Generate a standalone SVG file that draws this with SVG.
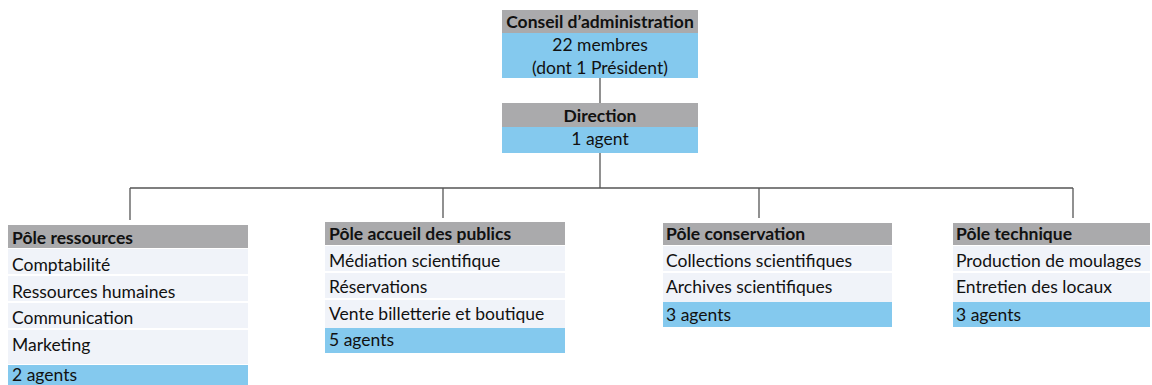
<svg xmlns="http://www.w3.org/2000/svg" width="1152" height="385" viewBox="0 0 1152 385">
<defs>
<style>
.hd{fill:#aaaaac}
.bl{fill:#84c9ee}
.lt{fill:#f0f3f9}
.t{font-family:Lato,"Open Sans","Liberation Sans",sans-serif;font-size:17.5px;fill:#111}
.b{font-weight:bold}
.c{text-anchor:middle}
.ln{stroke:#555;stroke-width:1.3;fill:none}
</style>
</defs>
<rect width="1152" height="385" fill="#ffffff"/>
<g id="connectors">
<line class="ln" x1="600" y1="78" x2="600" y2="103"/>
<line class="ln" x1="600" y1="153" x2="600" y2="188"/>
<line class="ln" x1="130" y1="188" x2="1073" y2="188"/>
<line class="ln" x1="130" y1="188" x2="130" y2="220"/>
<line class="ln" x1="443" y1="188" x2="443" y2="218"/>
<line class="ln" x1="759" y1="188" x2="759" y2="218"/>
<line class="ln" x1="1073" y1="188" x2="1073" y2="218"/>
</g>
<g id="conseil">
<rect class="hd" x="502" y="10" width="196" height="23"/>
<rect class="bl" x="502" y="33" width="196" height="45"/>
<text class="t b c" x="600" y="28">Conseil d’administration</text>
<text class="t c" x="600" y="51">22 membres</text>
<text class="t c" x="600" y="73.5">(dont 1 Président)</text>
</g>
<g id="direction">
<rect class="hd" x="502" y="103" width="196" height="24"/>
<rect class="bl" x="502" y="127" width="196" height="26"/>
<text class="t b c" x="600" y="122">Direction</text>
<text class="t c" x="600" y="145">1 agent</text>
</g>
<g id="pole-ressources">
<rect class="hd" x="8" y="225" width="240" height="23"/>
<rect class="lt" x="8" y="249" width="240" height="25"/>
<rect class="lt" x="8" y="276" width="240" height="25"/>
<rect class="lt" x="8" y="303" width="240" height="25"/>
<rect class="lt" x="8" y="330" width="240" height="34"/>
<rect class="bl" x="8" y="365" width="240" height="20"/>
<text class="t b" x="12" y="244">Pôle ressources</text>
<text class="t" x="12" y="271">Comptabilité</text>
<text class="t" x="12" y="298">Ressources humaines</text>
<text class="t" x="12" y="324">Communication</text>
<text class="t" x="12" y="351">Marketing</text>
<text class="t" x="12" y="381">2 agents</text>
</g>
<g id="pole-accueil">
<rect class="hd" x="325" y="222" width="240" height="23"/>
<rect class="lt" x="325" y="246" width="240" height="25"/>
<rect class="lt" x="325" y="273" width="240" height="25"/>
<rect class="lt" x="325" y="300" width="240" height="28"/>
<rect class="bl" x="325" y="328" width="240" height="25"/>
<text class="t b" x="329" y="240">Pôle accueil des publics</text>
<text class="t" x="329" y="267">Médiation scientifique</text>
<text class="t" x="329" y="293">Réservations</text>
<text class="t" x="329" y="320">Vente billetterie et boutique</text>
<text class="t" x="329" y="346">5 agents</text>
</g>
<g id="pole-conservation">
<rect class="hd" x="663" y="223" width="229" height="22"/>
<rect class="lt" x="663" y="246" width="229" height="25"/>
<rect class="lt" x="663" y="273" width="229" height="29"/>
<rect class="bl" x="663" y="302" width="229" height="25"/>
<text class="t b" x="666" y="240">Pôle conservation</text>
<text class="t" x="666" y="267">Collections scientifiques</text>
<text class="t" x="666" y="293">Archives scientifiques</text>
<text class="t" x="666" y="321">3 agents</text>
</g>
<g id="pole-technique">
<rect class="hd" x="953" y="223" width="197" height="22"/>
<rect class="lt" x="953" y="246" width="197" height="25"/>
<rect class="lt" x="953" y="273" width="197" height="29"/>
<rect class="bl" x="953" y="302" width="197" height="25"/>
<text class="t b" x="956" y="240">Pôle technique</text>
<text class="t" x="956" y="267">Production de moulages</text>
<text class="t" x="956" y="293">Entretien des locaux</text>
<text class="t" x="956" y="321">3 agents</text>
</g>
</svg>
